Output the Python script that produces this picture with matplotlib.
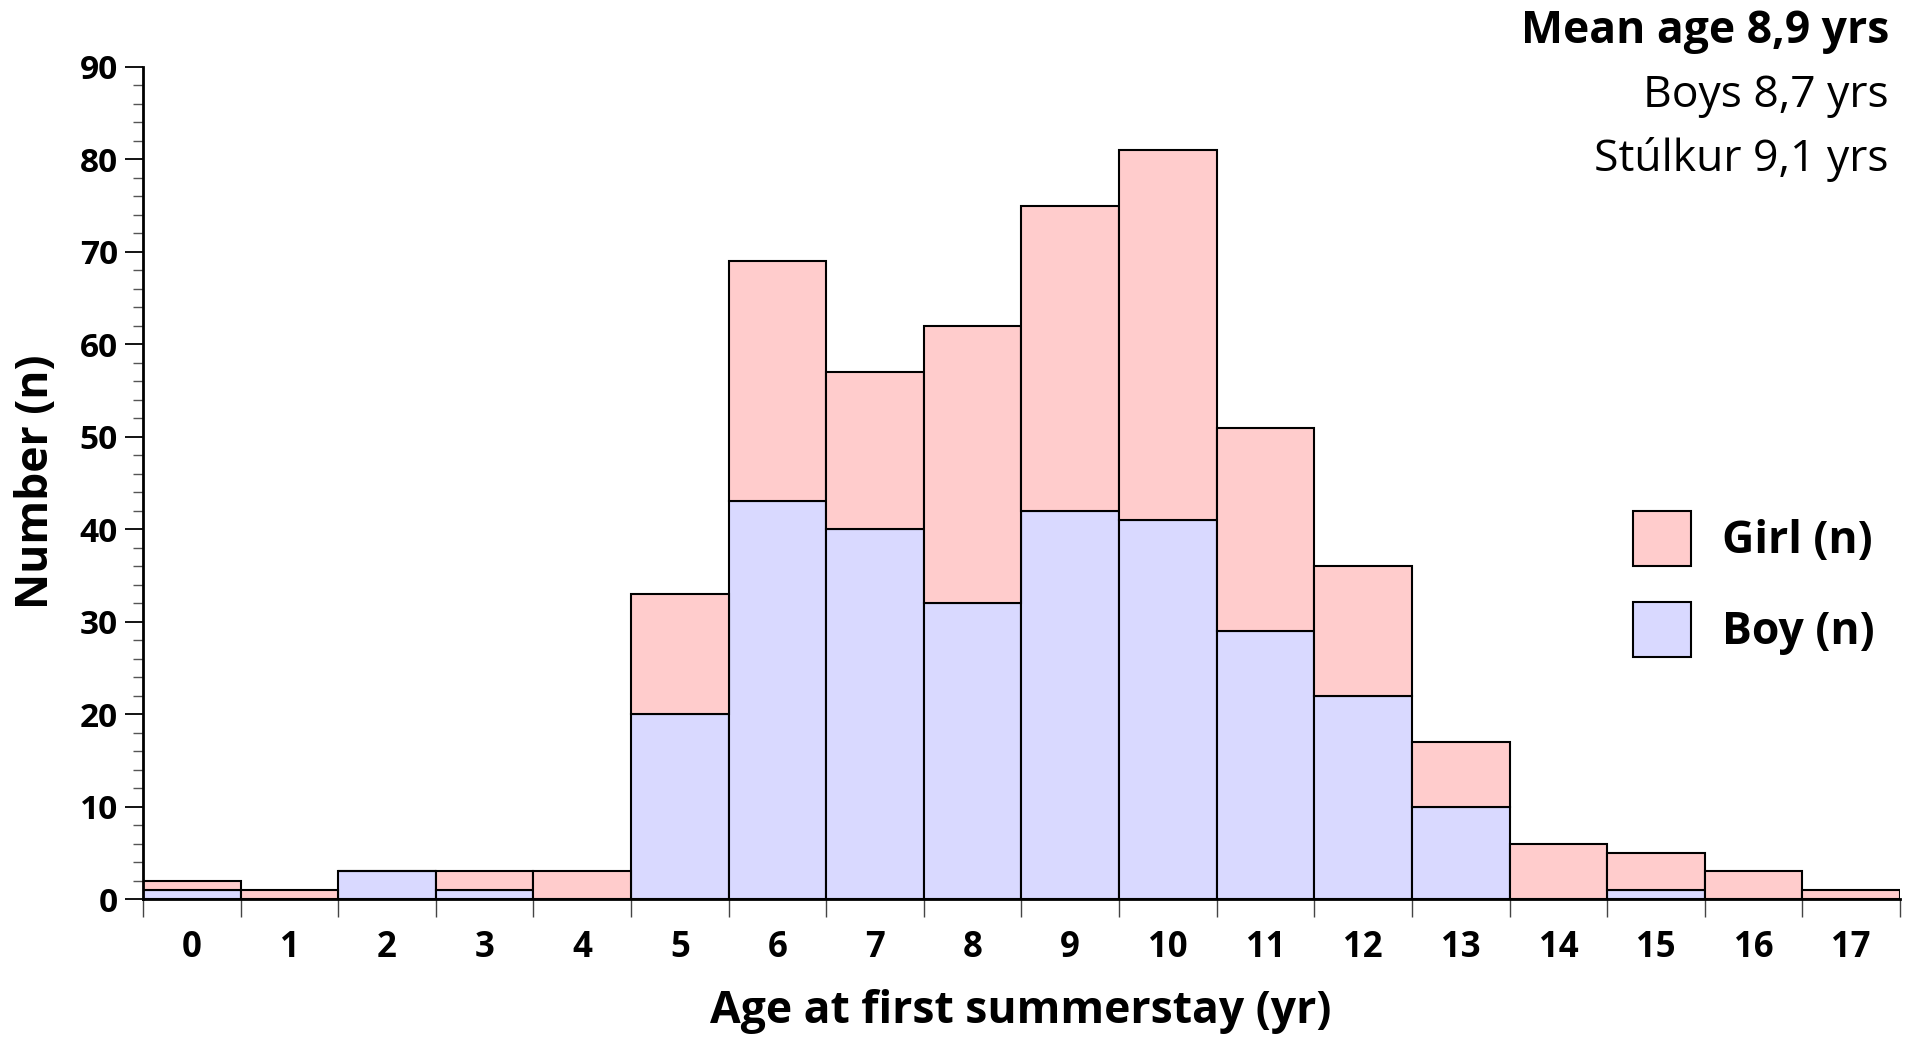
import numpy as np
import matplotlib.pyplot as plt
from matplotlib.patches import Patch
from matplotlib.ticker import MultipleLocator, FixedLocator

plt.rcParams['font.family'] = ['Open Sans', 'DejaVu Sans']

ages = list(range(18))
totals = [2, 1, 3, 3, 3, 33, 69, 57, 62, 75, 81, 51, 36, 17, 6, 5, 3, 1]
boys = [1, 0, 3, 1, 0, 20, 43, 40, 32, 42, 41, 29, 22, 10, 0, 1, 0, 0]
girls = [t - b for t, b in zip(totals, boys)]

girl_color = '#FFCCCC'
boy_color = '#D9D9FF'

fig = plt.figure(figsize=(19.15, 10.38), dpi=100)
ax = fig.add_axes([143 / 1915, 1 - 899 / 1038, (1900 - 143) / 1915, (899 - 67) / 1038])

x = np.array(ages)
ax.bar(x, boys, width=1.0, color=boy_color, edgecolor='black', linewidth=1.5)
ax.bar(x, girls, width=1.0, bottom=boys, color=girl_color, edgecolor='black', linewidth=1.5)

ax.set_xlim(-0.5, 17.5)
ax.set_ylim(0, 90)

for side in ['top', 'right']:
    ax.spines[side].set_visible(False)
for side in ['left', 'bottom']:
    ax.spines[side].set_linewidth(2)

# y axis: major every 10, minor every 2
ax.yaxis.set_major_locator(MultipleLocator(10))
ax.yaxis.set_minor_locator(MultipleLocator(2))
ax.tick_params(axis='y', which='major', length=13, width=1.3, pad=5, labelsize=24)
ax.tick_params(axis='y', which='minor', length=7, width=1.0, color='#555555')
for lbl in ax.get_yticklabels():
    lbl.set_fontweight('bold')

# x axis: ticks at bin edges, labels at centres
ax.xaxis.set_major_locator(FixedLocator(np.arange(-0.5, 17.6, 1.0)))
ax.xaxis.set_minor_locator(FixedLocator(x))
ax.set_xticklabels([])
ax.set_xticklabels([str(a) for a in ages], minor=True)
ax.tick_params(axis='x', which='major', length=13, width=1.0, color='#444444', direction='out')
ax.tick_params(axis='x', which='minor', length=0, pad=22, labelsize=25)
for lbl in ax.get_xticklabels(minor=True):
    lbl.set_fontweight('bold')

ax.set_xlabel('Age at first summerstay (yr)', fontsize=32, fontweight='bold')
ax.xaxis.set_label_coords(1021 / 1915, 1 - 1011 / 1038, transform=fig.transFigure)
ax.xaxis.label.set_va('center')
ax.set_ylabel('Number (n)', fontsize=32, fontweight='bold')
ax.yaxis.set_label_coords(37 / 1915, 1 - 482 / 1038, transform=fig.transFigure)
ax.yaxis.label.set_va('center')

fig.text(1889 / 1915, 1 - 31 / 1038, 'Mean age 8,9 yrs', ha='right', va='center',
         fontsize=32, fontweight='bold')
fig.text(1889 / 1915, 1 - 96 / 1038, 'Boys 8,7 yrs', ha='right', va='center', fontsize=32)
fig.text(1889 / 1915, 1 - 159 / 1038, 'Stúlkur 9,1 yrs', ha='right', va='center', fontsize=32)

handles = [Patch(facecolor=girl_color, edgecolor='black', linewidth=1.5, label='Girl (n)'),
           Patch(facecolor=boy_color, edgecolor='black', linewidth=1.5, label='Boy (n)')]
leg = ax.legend(handles=handles, loc='center left', bbox_to_anchor=(1633 / 1915, 1 - 584 / 1038),
                bbox_transform=fig.transFigure, frameon=False, prop={'size': 32, 'weight': 'bold'},
                handlelength=1.3, handleheight=1.55, handletextpad=0.7, labelspacing=0.8,
                borderpad=0, borderaxespad=0)

fig.savefig('out.png', dpi=100)
